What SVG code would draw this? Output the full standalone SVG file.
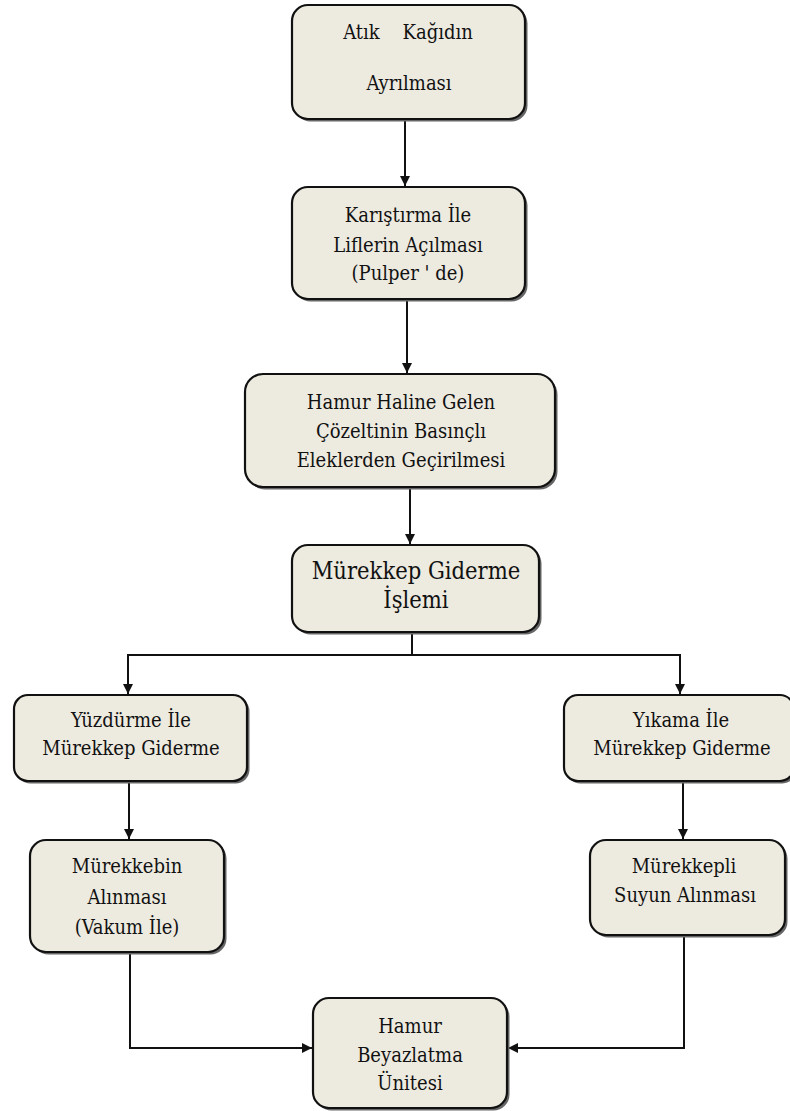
<svg xmlns="http://www.w3.org/2000/svg" width="790" height="1111" viewBox="0 0 790 1111">
<style>
.bx{fill:#edeae0;stroke:#111;stroke-width:2.2}
.sh{fill:#666}
.t{font-family:"DejaVu Serif Condensed","DejaVu Serif",serif;font-stretch:condensed;font-size:20px;fill:#111;text-anchor:middle}
.big{font-size:23.5px}
.c{fill:none;stroke:#111;stroke-width:2}
</style>
<defs>
<marker id="ah" viewBox="0 0 10 10" refX="10" refY="5" markerWidth="10" markerHeight="10" markerUnits="userSpaceOnUse" orient="auto">
<path d="M0,0 L10,5 L0,10 Z" fill="#111"/>
</marker>
</defs>
<rect width="790" height="1111" fill="#fff"/>
<g id="connectors">
<path class="c" d="M405,120 V186" marker-end="url(#ah)"/>
<path class="c" d="M407,300 V373" marker-end="url(#ah)"/>
<path class="c" d="M410,488 V544" marker-end="url(#ah)"/>
<path class="c" d="M412,632 V655 M128,655 H680"/>
<path class="c" d="M128,654 V694" marker-end="url(#ah)"/>
<path class="c" d="M680,654 V694" marker-end="url(#ah)"/>
<path class="c" d="M129,781 V839" marker-end="url(#ah)"/>
<path class="c" d="M683,781 V839" marker-end="url(#ah)"/>
<path class="c" d="M130,952 V1048 H312" marker-end="url(#ah)"/>
<path class="c" d="M684,935 V1048 H508" marker-end="url(#ah)"/>
</g>
<g id="n1">
<rect class="sh" x="294.5" y="7.5" width="233" height="114" rx="16"/>
<rect class="bx" x="292" y="5" width="233" height="114" rx="16"/>
<text class="t" x="408" y="39" xml:space="preserve" style="white-space:pre">Atık    Kağıdın</text>
<text class="t" x="409" y="90">Ayrılması</text>
</g>
<g id="n2">
<rect class="sh" x="294.5" y="189.5" width="233" height="112" rx="16"/>
<rect class="bx" x="292" y="187" width="233" height="112" rx="16"/>
<text class="t" x="408" y="222">Karıştırma İle</text>
<text class="t" x="408" y="252">Liflerin Açılması</text>
<text class="t" x="408" y="280">(Pulper ' de)</text>
</g>
<g id="n3">
<rect class="sh" x="247.5" y="376.5" width="310" height="113" rx="18"/>
<rect class="bx" x="245" y="374" width="310" height="113" rx="18"/>
<text class="t" x="401" y="409">Hamur Haline Gelen</text>
<text class="t" x="401" y="438">Çözeltinin Basınçlı</text>
<text class="t" x="401" y="467">Eleklerden Geçirilmesi</text>
</g>
<g id="n4">
<rect class="sh" x="294.5" y="547.5" width="247" height="87" rx="16"/>
<rect class="bx" x="292" y="545" width="247" height="87" rx="16"/>
<text class="t big" x="416" y="579">Mürekkep Giderme</text>
<text class="t big" x="416" y="608">İşlemi</text>
</g>
<g id="n5">
<rect class="sh" x="16.5" y="697.5" width="233" height="86" rx="14"/>
<rect class="bx" x="14" y="695" width="233" height="86" rx="14"/>
<text class="t" x="131" y="727">Yüzdürme İle</text>
<text class="t" x="131" y="755">Mürekkep Giderme</text>
</g>
<g id="n6">
<rect class="sh" x="566.5" y="697.5" width="230" height="86" rx="14"/>
<rect class="bx" x="564" y="695" width="230" height="86" rx="14"/>
<text class="t" x="681" y="727">Yıkama İle</text>
<text class="t" x="682" y="755">Mürekkep Giderme</text>
</g>
<g id="n7">
<rect class="sh" x="32.5" y="842.5" width="194" height="112" rx="16"/>
<rect class="bx" x="30" y="840" width="194" height="112" rx="16"/>
<text class="t" x="127" y="873">Mürekkebin</text>
<text class="t" x="127" y="904">Alınması</text>
<text class="t" x="127" y="934">(Vakum İle)</text>
</g>
<g id="n8">
<rect class="sh" x="592.5" y="842.5" width="195" height="95" rx="16"/>
<rect class="bx" x="590" y="840" width="195" height="95" rx="16"/>
<text class="t" x="684" y="873">Mürekkepli</text>
<text class="t" x="685" y="902">Suyun Alınması</text>
</g>
<g id="n9">
<rect class="sh" x="315.5" y="1000.5" width="194" height="110" rx="16"/>
<rect class="bx" x="313" y="998" width="194" height="110" rx="16"/>
<text class="t" x="410" y="1033">Hamur</text>
<text class="t" x="410" y="1062">Beyazlatma</text>
<text class="t" x="410" y="1090">Ünitesi</text>
</g>
</svg>
